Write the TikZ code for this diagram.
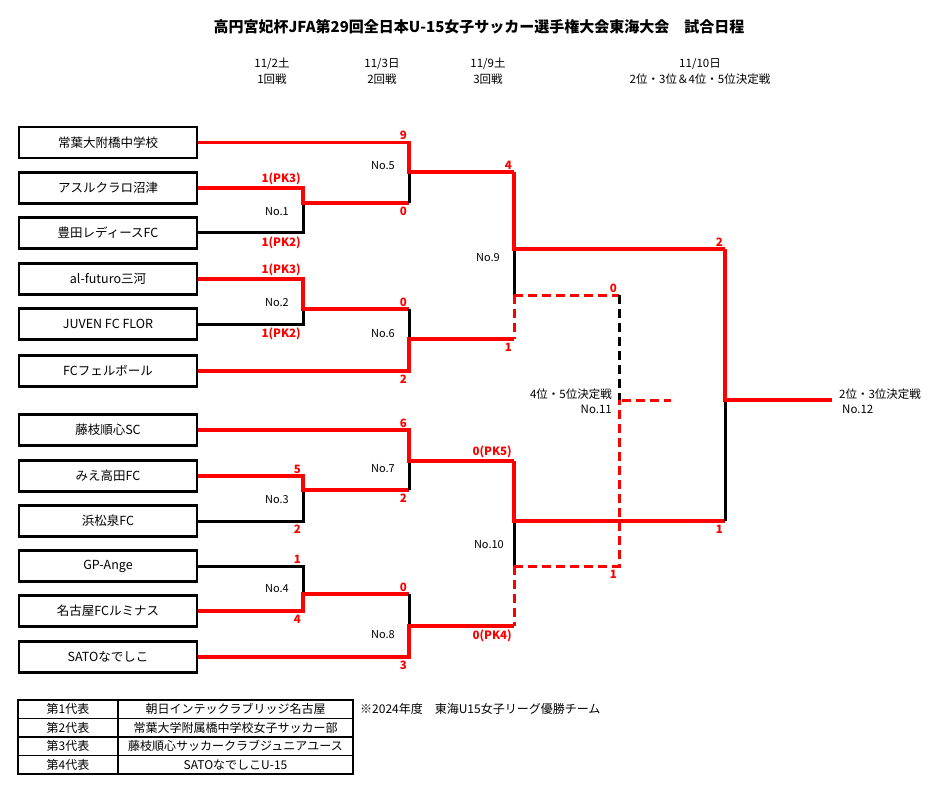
\documentclass[tikz,border=0pt]{standalone}
\usepackage{fontspec}
\setmainfont{Noto Sans CJK JP}
\usetikzlibrary{positioning}
\definecolor{winred}{RGB}{255,0,0}

\tikzset{
    team/.style={draw=black,line width=2.2pt,minimum width=178pt,minimum height=31pt,inner sep=0pt,
                 font=\fontsize{12.5}{14}\selectfont},
    win/.style={draw=winred,line width=3.8pt},
    lose/.style={draw=black,line width=3pt},
    redash/.style={draw=winred,line width=3pt,dash pattern=on 9pt off 5pt},
    blackdash/.style={draw=black,line width=3pt,dash pattern=on 9pt off 5pt},
    score/.style={text=winred,inner sep=0pt,font=\bfseries\fontsize{11.5}{13}\selectfont},
    scoreup/.style={score,anchor=south east,xshift=-2pt,yshift=2.5pt},
    scoredown/.style={score,anchor=north east,xshift=-2pt,yshift=-3.5pt},
    matchno/.style={anchor=east,inner sep=0pt,font=\fontsize{11}{13}\selectfont},
    cella/.style={draw=black,line width=1.8pt,outer sep=0pt,minimum width=100pt,minimum height=18.5pt,
                  inner sep=0pt,font=\fontsize{12}{13}\selectfont},
    cellb/.style={cella,minimum width=235pt}
}

\begin{document}
\begin{tikzpicture}[x=1pt,y=-1pt]
\useasboundingbox (0,0) rectangle (952,786);

% heading
\node[font=\bfseries\fontsize{15}{17}\selectfont,inner sep=0pt] (title) at (479,27)
    {高円宮妃杯JFA第29回全日本U-15女子サッカー選手権大会東海大会　試合日程};
\begin{scope}[every node/.style={align=center,inner sep=0pt,font=\fontsize{11.5}{16}\selectfont}]
    \node (day1) at (272,71) {11/2土\\1回戦};
    \node (day2) at (382,71) {11/3日\\2回戦};
    \node (day3) at (488,71) {11/9土\\3回戦};
    \node (day4) at (700,71) {11/10日\\2位・3位＆4位・5位決定戦};
\end{scope}

% teams
\node[team] (t1) at (108,142.5) {常葉大附橋中学校};
\node[team] (t2) at (108,188) {アスルクラロ沼津};
\node[team] (t3) at (108,233) {豊田レディースFC};
\node[team] (t4) at (108,279) {al-futuro三河};
\node[team] (t5) at (108,324) {JUVEN FC FLOR};
\node[team] (t6) at (108,371) {FCフェルボール};
\node[team] (t7) at (108,430) {藤枝順心SC};
\node[team] (t8) at (108,476) {みえ高田FC};
\node[team] (t9) at (108,521) {浜松泉FC};
\node[team] (t10) at (108,566) {GP-Ange};
\node[team] (t11) at (108,611) {名古屋FCルミナス};
\node[team] (t12) at (108,657) {SATOなでしこ};

% junctions
\coordinate (j1) at (303,203);
\coordinate (j2) at (303,309);
\coordinate (j3) at (303,490);
\coordinate (j4) at (303,594);
\coordinate (j5) at (409,172);
\coordinate (j6) at (409,339);
\coordinate (j7) at (409,461);
\coordinate (j8) at (409,626);
\coordinate (j9) at (514,249);
\coordinate (j10) at (514,521);
\coordinate (l9) at (514,295);
\coordinate (l10) at (514,566);
\coordinate (j11) at (619,400);
\coordinate (j12) at (725,400);
\coordinate (e11) at (671,400);
\coordinate (e12) at (832,400);

% 1st round
\draw[lose] (t3.east) -| (j1);
\draw[win] (t2.east) -| (j1) -- (j1 -| j5);
\draw[lose] (t5.east) -| (j2);
\draw[win] (t4.east) -| (j2) -- (j2 -| j6);
\draw[lose] (t9.east) -| (j3);
\draw[win] (t8.east) -| (j3) -- (j3 -| j7);
\draw[lose] (t10.east) -| (j4);
\draw[win] (t11.east) -| (j4) -- (j4 -| j8);

% 2nd round
\draw[lose] (j1 -| j5) -- (j5);
\draw[win] (t1.east) -| (j5) -- (j5 -| j9);
\draw[lose] (j2 -| j6) -- (j6);
\draw[win] (t6.east) -| (j6) -- (j6 -| j9);
\draw[lose] (j3 -| j7) -- (j7);
\draw[win] (t7.east) -| (j7) -- (j7 -| j10);
\draw[lose] (j4 -| j8) -- (j8);
\draw[win] (t12.east) -| (j8) -- (j8 -| j10);

% 3rd round and 4th/5th place
\draw[lose] (j9) -- (l9);
\draw[redash] (l9) -- (j6 -| j9);
\draw[lose] (j10) -- (l10);
\draw[redash] (l10) -- (j8 -| j10);
\draw[redash] (l9) -- (l9 -| j11);
\draw[blackdash] (l9 -| j11) -- (j11);
\draw[redash] (l10) -| (j11);
\draw[redash] ([xshift=3pt]j11) -- (e11);
\draw[win] (j5 -| j9) -- (j9) -- (j9 -| j12);
\draw[win] (j7 -| j10) -- (j10) -- (j10 -| j12);

% 2nd/3rd place
\draw[lose] (j12) -- (j10 -| j12);
\draw[win] (j9 -| j12) -- (j12) -- (e12);

% scores
\node[scoreup] (s1a) at (t2.east -| j1) {1(PK3)};
\node[scoredown] (s1b) at (t3.east -| j1) {1(PK2)};
\node[scoreup] (s2a) at (t4.east -| j2) {1(PK3)};
\node[scoredown] (s2b) at (t5.east -| j2) {1(PK2)};
\node[scoreup] (s3a) at (t8.east -| j3) {5};
\node[scoredown] (s3b) at (t9.east -| j3) {2};
\node[scoreup] (s4a) at (t10.east -| j4) {1};
\node[scoredown] (s4b) at (t11.east -| j4) {4};
\node[scoreup] (s5a) at (t1.east -| j5) {9};
\node[scoredown] (s5b) at (j1 -| j5) {0};
\node[scoreup] (s6a) at (j2 -| j6) {0};
\node[scoredown] (s6b) at (t6.east -| j6) {2};
\node[scoreup] (s7a) at (t7.east -| j7) {6};
\node[scoredown] (s7b) at (j3 -| j7) {2};
\node[scoreup] (s8a) at (j4 -| j8) {0};
\node[scoredown] (s8b) at (t12.east -| j8) {3};
\node[scoreup] (s9a) at (j5 -| j9) {4};
\node[scoredown] (s9b) at (j6 -| j9) {1};
\node[scoreup] (s10a) at (j7 -| j10) {0(PK5)};
\node[scoredown] (s10b) at (j8 -| j10) {0(PK4)};
\node[scoreup] (s11a) at (l9 -| j11) {0};
\node[scoredown] (s11b) at (l10 -| j11) {1};
\node[scoreup] (s12a) at (j9 -| j12) {2};
\node[scoredown] (s12b) at (j10 -| j12) {1};

% match numbers
\node[matchno] (n1) at (289,212) {No.1};
\node[matchno] (n2) at (289,303) {No.2};
\node[matchno] (n3) at (289,500) {No.3};
\node[matchno] (n4) at (289,589) {No.4};
\node[matchno] (n5) at (395,166) {No.5};
\node[matchno] (n6) at (395,334) {No.6};
\node[matchno] (n7) at (395,469) {No.7};
\node[matchno] (n8) at (395,635) {No.8};
\node[matchno] (n9) at (500,258) {No.9};
\node[matchno] (n10) at (504,545) {No.10};
\node[matchno,align=right,font=\fontsize{11.5}{15}\selectfont] (n11) at (612,401) {4位・5位決定戦\\No.11\hspace{4pt}};
\node[matchno,anchor=west,align=left,font=\fontsize{11.5}{15}\selectfont] (n12) at (839,401) {2位・3位決定戦\\\hspace{3pt}No.12};

% representatives
\node[cella] (r1a) at (68,709.25) {第1代表};
\node[cellb,right=0pt of r1a] (r1b) {朝日インテックラブリッジ名古屋};
\node[cella,below=0pt of r1a] (r2a) {第2代表};
\node[cellb,right=0pt of r2a] (r2b) {常葉大学附属橋中学校女子サッカー部};
\node[cella,below=0pt of r2a] (r3a) {第3代表};
\node[cellb,right=0pt of r3a] (r3b) {藤枝順心サッカークラブジュニアユース};
\node[cella,below=0pt of r3a] (r4a) {第4代表};
\node[cellb,right=0pt of r4a] (r4b) {SATOなでしこU-15};
\node[anchor=west,inner sep=0pt,font=\fontsize{12}{13}\selectfont,right=7pt of r1b] (note)
    {※2024年度　東海U15女子リーグ優勝チーム};
\end{tikzpicture}
\end{document}
